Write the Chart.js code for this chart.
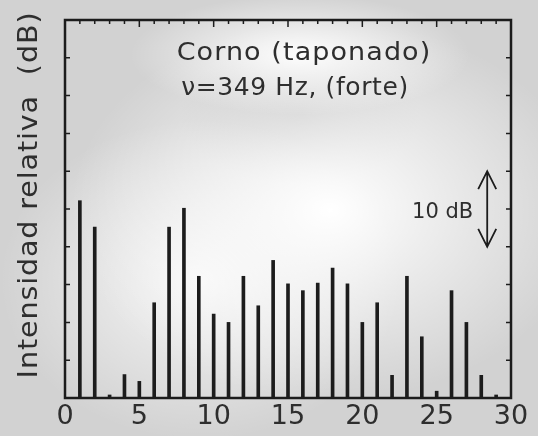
<!DOCTYPE html>
<html>
<head>
<meta charset="utf-8">
<script src="https://cdn.jsdelivr.net/npm/chart.js"></script>
<style>
  html, body { margin: 0; padding: 0; }
  body {
    width: 538px; height: 436px; overflow: hidden;
    background:
      radial-gradient(ellipse 170px 60px at 300px 55px, rgba(255,255,255,0.95), rgba(255,255,255,0) 100%),
      radial-gradient(ellipse 260px 190px at 330px 210px, rgba(255,255,255,1), rgba(255,255,255,0) 100%),
      radial-gradient(ellipse 200px 160px at 200px 280px, rgba(255,255,255,0.8), rgba(255,255,255,0) 100%),
      radial-gradient(ellipse 120px 70px at 300px 115px, rgba(170,170,170,0.5), rgba(170,170,170,0) 100%),
      #d2d2d2;
  }
  #wrap { position: relative; width: 538px; height: 436px; }
</style>
</head>
<body>
<div id="wrap"><canvas id="chart" width="538" height="436"></canvas></div>
<script>
// harmonic number -> relative intensity (dB above floor)
const harmonics = [1, 2, 3, 4, 5, 6, 7, 8, 9, 10, 11, 12, 13, 14, 15, 16, 17, 18, 19, 20, 21, 22, 23, 24, 25, 26, 27, 28, 29];
const levels = [26.1, 22.6, 0.4, 3.1, 2.2, 12.6, 22.6, 25.1, 16.1, 11.1, 10.0, 16.1, 12.2, 18.2, 15.1, 14.2, 15.2, 17.2, 15.1, 10.0, 12.6, 3.0, 16.1, 8.1, 0.9, 14.2, 10.0, 3.0, 0.4];
const xTicks = [0, 5, 10, 15, 20, 25, 30];
const yTicks = [0, 5, 10, 15, 20, 25, 30, 35, 40, 45, 50];
const titleLines = ['Corno (taponado)', 'ν=349 Hz, (forte)'];
const yTitle = 'Intensidad relativa  (dB)';
const scaleBar = { x: 28.4, from: 20, to: 30, label: '10 dB' };

const ink = '#1c1c1c';
const textInk = '#2e2e2e';

// wide-looking text: stretch horizontally a bit instead of spacing letters
function wideText(ctx, text, cx, cy, font, stretch, spacing) {
  ctx.save();
  ctx.translate(cx, cy);
  ctx.scale(stretch, 1);
  ctx.font = font;
  ctx.letterSpacing = spacing;
  ctx.fillText(text, 0, 0);
  ctx.restore();
}

// frame, inward ticks, labels and the 10 dB arrow
const decorations = {
  id: 'decorations',
  afterDatasetsDraw(chart) {
    const { ctx, chartArea: a, scales: { x, y } } = chart;
    ctx.save();
    ctx.strokeStyle = ink;
    ctx.lineWidth = 2.5;
    ctx.strokeRect(a.left, a.top, a.right - a.left, a.bottom - a.top);

    ctx.lineWidth = 1.5;
    ctx.beginPath();
    // top axis: minor every 1, major every 5
    for (let v = 0; v <= 30; v++) {
      const px = x.getPixelForValue(v);
      const len = v % 5 === 0 ? 7 : 4;
      ctx.moveTo(px, a.top);
      ctx.lineTo(px, a.top + len);
    }
    yTicks.forEach(v => {
      const py = y.getPixelForValue(v);
      ctx.moveTo(a.left, py); ctx.lineTo(a.left + 5, py);
      ctx.moveTo(a.right, py); ctx.lineTo(a.right - 5, py);
    });
    ctx.stroke();

    ctx.fillStyle = textInk;
    ctx.textAlign = 'center';
    ctx.textBaseline = 'middle';
    ctx.font = '27px "DejaVu Sans"';
    xTicks.forEach(v => ctx.fillText(String(v), x.getPixelForValue(v), 417));

    wideText(ctx, titleLines[0], 304, 53, '25px "DejaVu Sans"', 1.08, '1px');
    wideText(ctx, titleLines[1], 295, 89, '24px "DejaVu Sans"', 1.04, '0.6px');

    ctx.save();
    ctx.translate(30, 195);
    ctx.rotate(-Math.PI / 2);
    wideText(ctx, yTitle, 0, 0, '27px "DejaVu Sans"', 1.06, '0.8px');
    ctx.restore();

    // scale arrow
    const ax = x.getPixelForValue(scaleBar.x);
    const y1 = y.getPixelForValue(scaleBar.to);
    const y2 = y.getPixelForValue(scaleBar.from);
    ctx.lineWidth = 1.8;
    ctx.beginPath();
    ctx.moveTo(ax, y1); ctx.lineTo(ax, y2);
    ctx.moveTo(ax - 9, y1 + 18); ctx.lineTo(ax, y1); ctx.lineTo(ax + 9, y1 + 18);
    ctx.moveTo(ax - 9, y2 - 18); ctx.lineTo(ax, y2); ctx.lineTo(ax + 9, y2 - 18);
    ctx.stroke();
    ctx.font = '21px "DejaVu Sans"';
    ctx.textAlign = 'right';
    ctx.fillText(scaleBar.label, ax - 14, 213);
    ctx.restore();
  }
};

new Chart(document.getElementById('chart'), {
  type: 'bar',
  data: {
    datasets: [{
      data: harmonics.map((h, i) => ({ x: h, y: levels[i] })),
      backgroundColor: ink,
      barThickness: 3
    }]
  },
  options: {
    responsive: false,
    animation: false,
    layout: { padding: { left: 65, right: 27, top: 20, bottom: 38 } },
    plugins: { legend: { display: false }, tooltip: { enabled: false } },
    scales: {
      x: { type: 'linear', min: 0, max: 30, offset: false, display: false },
      y: { min: 0, max: 50, display: false }
    }
  },
  plugins: [decorations]
});
</script>
</body>
</html>
